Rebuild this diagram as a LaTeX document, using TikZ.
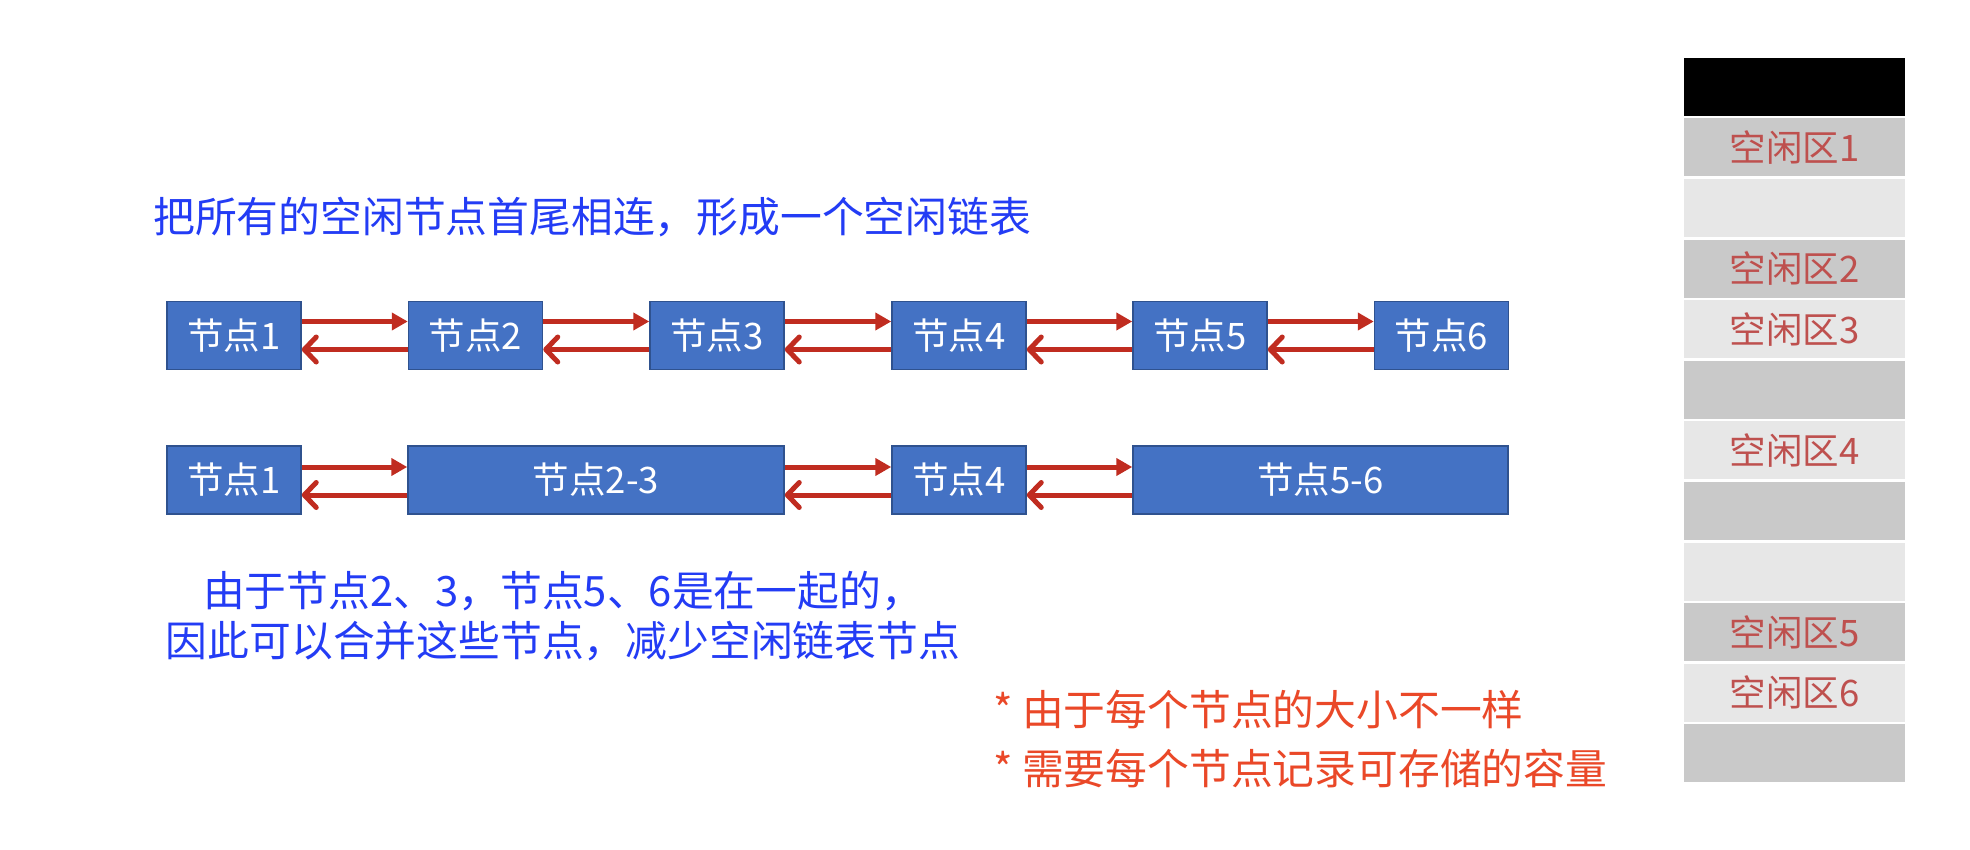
\documentclass[tikz,border=0pt]{standalone}
\usepackage{fontspec}
\setmainfont{Noto Sans CJK SC}
\usetikzlibrary{arrows.meta}
\definecolor{boxblue}{RGB}{68,114,196}
\definecolor{boxedge}{RGB}{47,82,143}
\definecolor{linkred}{RGB}{192,44,32}
\definecolor{noteblue}{RGB}{35,60,245}
\definecolor{notered}{RGB}{234,72,40}
\definecolor{cellA}{RGB}{201,201,201}
\definecolor{cellB}{RGB}{231,231,231}
\definecolor{celltext}{RGB}{190,80,78}
\tikzset{
  listnode/.style={draw=boxedge, line width=1.5pt, fill=boxblue, text=white,
    minimum height=68pt, inner sep=0pt, font=\fontsize{36.5}{40}\selectfont},
  fwd/.style={draw=linkred, line width=5pt, -{Triangle[length=16pt,width=17pt]}},
  bwd/.style={draw=linkred, line width=5pt, -{Straight Barb[length=12pt,width=25pt,round]}},
  memcell/.style={draw=white, line width=2.5pt, minimum width=223pt, minimum height=60.6pt,
    inner sep=0pt, text=celltext, font=\fontsize{36.5}{40}\selectfont},
  note/.style={inner sep=0pt, font=\fontsize{41.8}{50.5}\selectfont}
}
\begin{document}
\begin{tikzpicture}[x=1pt,y=-1pt]
\useasboundingbox[fill=white] (0,0) rectangle (1970,850);

% title
\node[note, text=noteblue, anchor=west] (title) at (153,217) {把所有的空闲节点首尾相连，形成一个空闲链表};

% first list: six separate free nodes
\foreach \i/\cx in {1/234,2/475.5,3/717,4/959,5/1200,6/1441.5}
  \node[listnode, minimum width=134pt] (a\i) at (\cx,335.5) {节点\i};
\foreach \i/\j in {1/2,2/3,3/4,4/5,5/6} {
  \draw[fwd] ([yshift=14pt]a\i.east) -- ([yshift=14pt]a\j.west);
  \draw[bwd] ([yshift=-14pt]a\j.west) -- ([yshift=-14pt]a\i.east);
}

% second list: adjacent nodes merged
\node[listnode, minimum width=134pt] (b1) at (234,480) {节点1};
\node[listnode, minimum width=376pt] (b23) at (596,480) {节点2-3};
\node[listnode, minimum width=134pt] (b4) at (959,480) {节点4};
\node[listnode, minimum width=375pt] (b56) at (1320.5,480) {节点5-6};
\foreach \p/\q in {b1/b23,b23/b4,b4/b56} {
  \draw[fwd] ([yshift=13pt]\p.east) -- ([yshift=13pt]\q.west);
  \draw[bwd] ([yshift=-15pt]\q.west) -- ([yshift=-15pt]\p.east);
}

% explanation
\node[note, text=noteblue, align=center] (expl) at (563,616)
  {由于节点2、3，节点5、6是在一起的，\\因此可以合并这些节点，减少空闲链表节点};
\node[note, text=notered, anchor=west] (n1) at (993,710) {* 由于每个节点的大小不一样};
\node[note, text=notered, anchor=west] (n2) at (993,769) {* 需要每个节点记录可存储的容量};

% memory column
\node[memcell, fill=black] (m0) at (1794.5,86.8) {};
\foreach \k/\lab in {1/空闲区1,2/,3/空闲区2,4/空闲区3,5/,6/空闲区4,7/,8/,9/空闲区5,10/空闲区6,11/} {
  \pgfmathsetmacro{\cy}{86.8+60.6*\k}
  \pgfmathparse{mod(\k,2)==1 ? "cellA" : "cellB"}
  \edef\cc{\pgfmathresult}
  \node[memcell, fill=\cc] (m\k) at (1794.5,\cy) {\lab};
}
\end{tikzpicture}
\end{document}
